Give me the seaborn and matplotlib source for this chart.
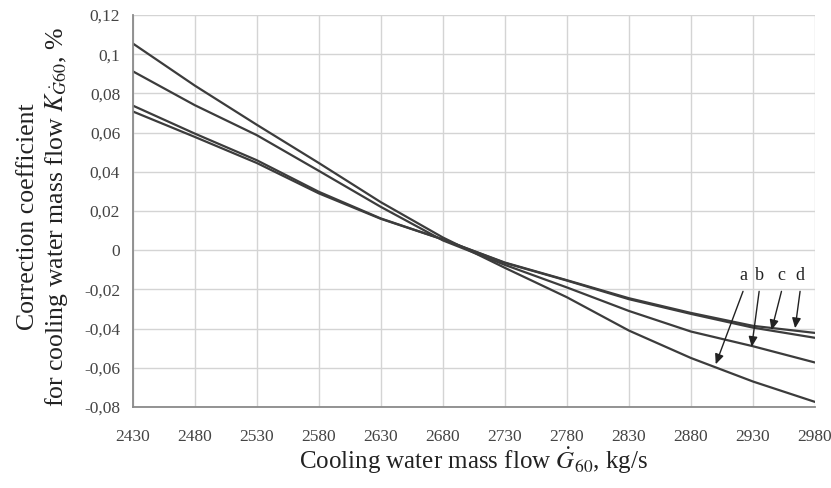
import matplotlib
matplotlib.use("Agg")
import matplotlib.pyplot as plt
import seaborn as sns
import pandas as pd

# ---- data ----
flow = [2430, 2480, 2530, 2580, 2630, 2680, 2730, 2780, 2830, 2880, 2930, 2980]
curve_a = [0.1055, 0.084, 0.064, 0.0445, 0.0245, 0.0065, -0.009, -0.024, -0.041, -0.055, -0.067, -0.0774]
curve_b = [0.0913, 0.074, 0.0587, 0.0405, 0.0221, 0.005, -0.0075, -0.019, -0.031, -0.0415, -0.049, -0.0573]
curve_c = [0.0738, 0.0595, 0.0459, 0.0298, 0.0162, 0.0055, -0.0065, -0.0155, -0.025, -0.0325, -0.0395, -0.0447]
curve_d = [0.0708, 0.0578, 0.0445, 0.029, 0.016, 0.0055, -0.0063, -0.0153, -0.0245, -0.032, -0.0386, -0.0422]
curve_names = ["a", "b", "c", "d"]
y_ticks = [0.12, 0.10, 0.08, 0.06, 0.04, 0.02, 0.0, -0.02, -0.04, -0.06, -0.08]
y_tick_labels = ["0,12", "0,1", "0,08", "0,06", "0,04", "0,02", "0", "-0,02", "-0,04", "-0,06", "-0,08"]
# annotation: label, label position (x, y), arrow tip (x, y)
ann_labels = ["a", "b", "c", "d"]
ann_text_x = [2922, 2935, 2953, 2968]
ann_text_y = [-0.0175, -0.0175, -0.0175, -0.0175]
ann_tip_x = [2900, 2929, 2945, 2964]
ann_tip_y = [-0.0582, -0.0493, -0.0408, -0.0398]

rows = []
for name, vals in zip(curve_names, [curve_a, curve_b, curve_c, curve_d]):
    for x, v in zip(flow, vals):
        rows.append({"flow": x, "K": v, "curve": name})
df = pd.DataFrame(rows)

sns.set_theme(style="white")
plt.rcParams["font.family"] = ["Liberation Serif", "DejaVu Serif"]
plt.rcParams["mathtext.fontset"] = "stix"

fig = plt.figure(figsize=(8.31, 4.88), dpi=100)
ax = fig.add_axes([0.1597, 0.166, 0.8210, 0.8033])

line_col = "#3c3c3c"
sns.lineplot(data=df, x="flow", y="K", hue="curve",
             palette={n: line_col for n in curve_names},
             linewidth=1.6, legend=False, ax=ax)

ax.set_xlim(2430, 2980)
ax.set_ylim(-0.08, 0.12)
ax.set_xticks(flow)
ax.set_xticklabels([str(v) for v in flow])
ax.set_yticks(y_ticks)
ax.set_yticklabels(y_tick_labels)
ax.grid(True, color="#d4d4d4", linewidth=1.0)
ax.set_axisbelow(True)

for s in ["top", "right"]:
    ax.spines[s].set_visible(False)
for s in ["left", "bottom"]:
    ax.spines[s].set_color("#8a8a8a")
    ax.spines[s].set_linewidth(1.3)

ax.tick_params(axis="both", which="both", direction="out", length=5,
               width=1.0, color="#8a8a8a", labelsize=12.5, labelcolor="#444444")
ax.tick_params(axis="x", pad=11)
ax.tick_params(axis="y", pad=4)

ax.set_xlabel(r"Cooling water mass flow $\dot{G}_{60}$, kg/s",
              fontsize=18, color="#222222", va="baseline")
ax.xaxis.set_label_coords(0.5, -0.158)
ax.set_ylabel("Correction coefficient\n" + r"for cooling water mass flow $K_{\dot{G}60}$, %",
              fontsize=18.5, color="#222222", linespacing=1.2, va="center")
ax.yaxis.set_label_coords(-0.131, 0.485)

for lab, tx, ty, px, py in zip(ann_labels, ann_text_x, ann_text_y, ann_tip_x, ann_tip_y):
    ax.annotate("", xy=(px, py), xytext=(tx, ty - 0.0035),
                arrowprops=dict(arrowstyle="-|>,head_length=0.5,head_width=0.22",
                                color="#222222", linewidth=1.0, shrinkA=0, shrinkB=0))
    ax.text(tx, ty, lab, ha="center", va="bottom", fontsize=13, color="#222222")

fig.savefig("out.png", dpi=100)
